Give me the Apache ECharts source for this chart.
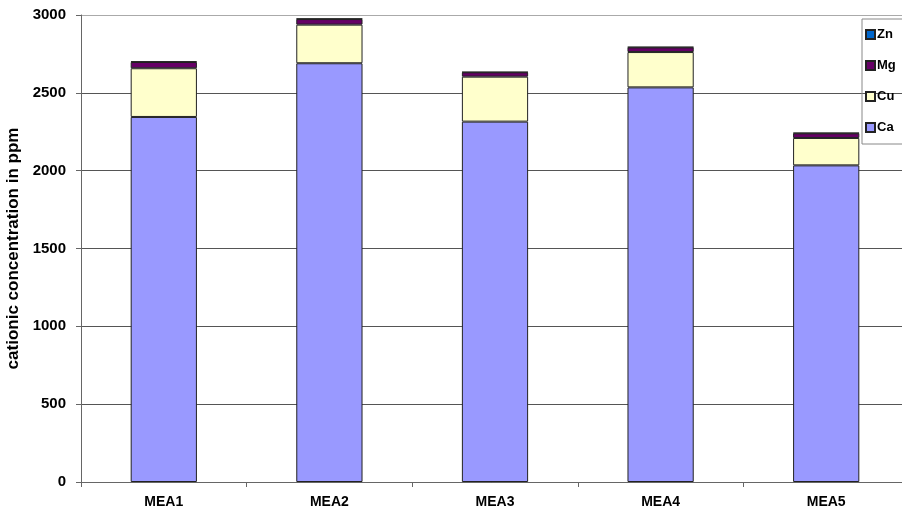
<!DOCTYPE html>
<html>
<head>
<meta charset="utf-8">
<script src="https://cdn.jsdelivr.net/npm/echarts@6/dist/echarts.min.js"></script>
<style>html,body{margin:0;padding:0;background:#fff}#c{width:902px;height:513px}</style>
</head>
<body>
<div id="c"></div>
<script>
var categories = ['MEA1', 'MEA2', 'MEA3', 'MEA4', 'MEA5'];
var caValues = [2345, 2690, 2315, 2535, 2034];
var cuValues = [313, 248, 289, 227, 176];
var mgValues = [40, 36, 28, 30, 30];
var znValues = [4, 3, 2, 3, 3];
var yTicks = [0, 500, 1000, 1500, 2000, 2500, 3000];

var font = '"Liberation Sans", Arial, sans-serif';
var chart = echarts.init(document.getElementById('c'), null, {renderer: 'canvas'});

function mk(name, data, color) {
  return {
    name: name, type: 'bar', stack: 'total', data: data, barWidth: '40%',
    itemStyle: {color: color, borderColor: '#222', borderWidth: 1},
    emphasis: {disabled: true}, animation: false
  };
}

chart.setOption({
  animation: false,
  backgroundColor: '#fff',
  grid: {left: 81, top: 15, width: 828, bottom: 31, containLabel: false, outerBoundsMode: 'none'},
  legend: {
    orient: 'vertical', left: 862, top: 19,
    data: ['Zn', 'Mg', 'Cu', 'Ca'],
    itemWidth: 9, itemHeight: 9, itemGap: 18,
    padding: [9, 20, 10, 3],
    borderColor: '#888', borderWidth: 1,
    icon: 'rect',
    textStyle: {fontFamily: font, fontWeight: 'bold', fontSize: 13, color: '#000', padding: [0, 0, 0, -3]},
    selectedMode: false
  },
  xAxis: {
    type: 'category', data: categories,
    axisLine: {lineStyle: {color: '#666', width: 1}},
    axisTick: {show: true, length: 5, alignWithLabel: false, lineStyle: {color: '#666'}},
    axisLabel: {fontFamily: font, fontWeight: 'bold', fontSize: 14, color: '#000', margin: 13},
    splitLine: {show: false}
  },
  yAxis: {
    type: 'value', min: 0, max: 3000, interval: 500,
    name: 'cationic concentration in ppm', nameLocation: 'middle', nameGap: 57,
    nameTextStyle: {fontFamily: font, fontWeight: 'bold', fontSize: 17, color: '#000'},
    axisLine: {show: true, lineStyle: {color: '#666', width: 1}},
    axisTick: {show: true, length: 5, lineStyle: {color: '#666'}},
    axisLabel: {fontFamily: font, fontWeight: 'bold', fontSize: 15, color: '#000', margin: 15,
      formatter: function (v) { return yTicks.indexOf(v) >= 0 ? String(v) : ''; }},
    splitLine: {show: true, lineStyle: {color: ['#555', '#555', '#555', '#555', '#555', '#555', '#aaa'], width: 1}}
  },
  series: [
    mk('Ca', caValues, '#9999FF'),
    mk('Cu', cuValues, '#FFFFCC'),
    mk('Mg', mgValues, '#660066'),
    mk('Zn', znValues, '#0066CC')
  ]
});
</script>
</body>
</html>
